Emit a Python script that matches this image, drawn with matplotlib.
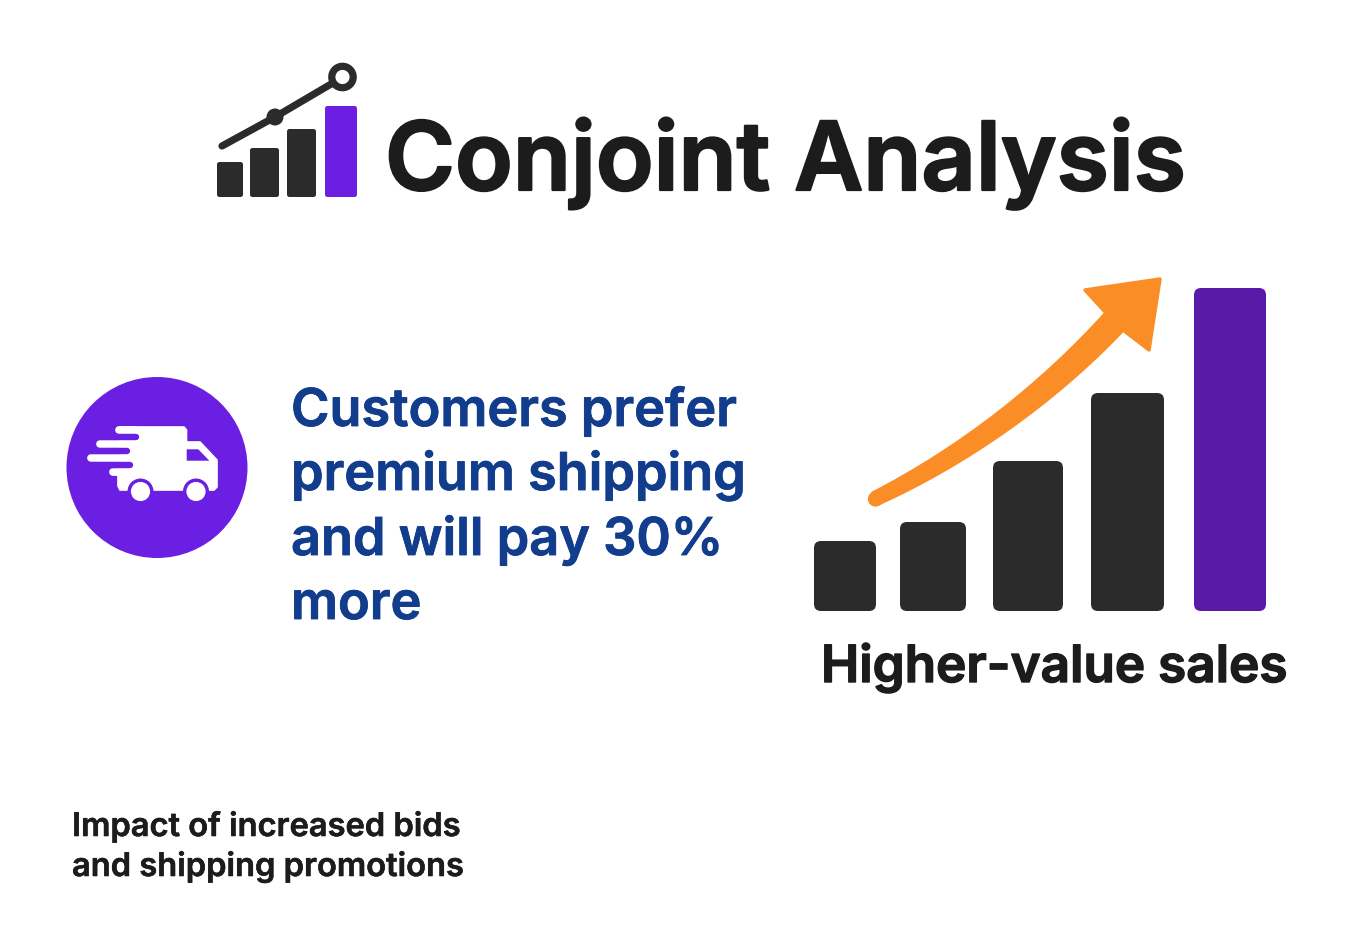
import matplotlib
matplotlib.use("Agg")
import matplotlib.pyplot as plt
import matplotlib.patheffects as pe
from matplotlib.patches import FancyBboxPatch, Circle, Polygon, PathPatch
from matplotlib.path import Path

plt.rcParams['font.family'] = ['Inter', 'DejaVu Sans']

TITLE = "Conjoint Analysis"
MESSAGE = ["Customers prefer", "premium shipping", "and will pay 30%", "more"]
SALES_LABEL = "Higher-value sales"
FOOTNOTE = ["Impact of increased bids", "and shipping promotions"]
SALES_HEIGHTS = [70, 89, 150, 218, 323]
LOGO_HEIGHTS = [35, 49, 68, 91]

DARK = "#2b2b2b"
INK = "#1c1c1c"
PURPLE = "#6a1fe3"
DEEP = "#5a1aa8"
ORANGE = "#fb8d26"
BLUE = "#123d8c"

W, H = 1369, 930
fig = plt.figure(figsize=(W / 100, H / 100), dpi=100, facecolor="white")
ax = fig.add_axes([0, 0, 1, 1])
ax.set_xlim(0, W)
ax.set_ylim(H, 0)
ax.axis("off")


def rbar(x0, x1, base, height, color, r):
    ax.add_patch(FancyBboxPatch((x0 + r, base - height + r), x1 - x0 - 2 * r, height - 2 * r,
                                boxstyle=f"round,pad={r},rounding_size={r}",
                                fc=color, ec="none", mutation_aspect=1))


def label(x, y, s, size, color, bold):
    ax.text(x, y, s, fontsize=size, fontweight=600, color=color, va="baseline", ha="left",
            path_effects=[pe.withStroke(linewidth=bold, foreground=color)])


# logo
logo_x = [(217, 243), (250, 279), (287, 316), (325, 357)]
for (a, b), h, c in zip(logo_x, LOGO_HEIGHTS, [DARK, DARK, DARK, PURPLE]):
    rbar(a, b, 197, h, c, 2.5)
ax.plot([222, 275, 343], [146, 117, 77], color=DARK, lw=5.2, solid_capstyle="round", zorder=1)
ax.add_patch(Circle((275, 117), 8.5, fc=DARK, ec="none", zorder=3))
ax.add_patch(Circle((342.5, 77), 10.7, fc="white", ec=DARK, lw=5.2, zorder=3))

# truck badge
ax.add_patch(Circle((157, 467.5), 90.5, fc=PURPLE, ec="none", zorder=1))
white = "white"
for x0, y in [(119, 430), (100, 444), (91, 457.7), (113, 471.7)]:
    ax.plot([x0, 135], [y, y], color=white, lw=5.6, solid_capstyle="round", zorder=2)
ax.add_patch(Polygon([(120, 427), (184, 427), (186.5, 430), (186.5, 442), (200, 442), (217, 460),
                      (217, 487), (214, 490), (120, 490), (118, 486), (118, 470), (120, 460)],
                     closed=True, fc=white, ec=white, lw=1.2, joinstyle="round", zorder=2))
ax.add_patch(Polygon([(186.7, 449.3), (198.3, 449.3), (209.3, 460.7), (186.7, 460.7)],
                     closed=True, fc=PURPLE, ec="none", zorder=3))
for x1, y in [(136, 437), (127, 450.7), (130, 464.8)]:
    ax.plot([85, x1], [y, y], color=PURPLE, lw=4.6, solid_capstyle="round", zorder=3)
for cx in (140.5, 196):
    ax.add_patch(Circle((cx, 491.5), 13, fc=PURPLE, ec="none", zorder=3))
    ax.add_patch(Circle((cx, 491.5), 9.6, fc=white, ec="none", zorder=4))

# sales bars
sales_x = [(814, 876), (900, 966), (993, 1063), (1091, 1164), (1194, 1266)]
for (a, b), h, c in zip(sales_x, SALES_HEIGHTS, [DARK] * 4 + [DEEP]):
    rbar(a, b, 611, h, c, 7)

# arrow
verts = [(873, 493), (960, 448), (1040, 386), (1106, 313),
         (1085, 290), (1160, 279), (1149, 350), (1123, 330),
         (1055, 402), (965, 465), (878, 504), (873, 493)]
codes = [Path.MOVETO, Path.CURVE4, Path.CURVE4, Path.CURVE4,
         Path.LINETO, Path.LINETO, Path.LINETO, Path.LINETO,
         Path.CURVE4, Path.CURVE4, Path.CURVE4, Path.CLOSEPOLY]
ax.add_patch(PathPatch(Path(verts, codes), fc=ORANGE, ec=ORANGE, lw=2.5, joinstyle="round"))
ax.add_patch(Circle((875.5, 499), 7.6, fc=ORANGE, ec="none"))

# text
label(385, 190, TITLE, 68.4, INK, 1.6)
for y, line in zip([426, 490, 555, 619], MESSAGE):
    label(291, y, line, 37.6, BLUE, 0.6)
label(821, 682, SALES_LABEL, 36.9, INK, 1.0)
for y, line in zip([836, 876], FOOTNOTE):
    label(72, y, line, 23.5, INK, 0.4)

fig.savefig("out.png", dpi=100, facecolor="white")
